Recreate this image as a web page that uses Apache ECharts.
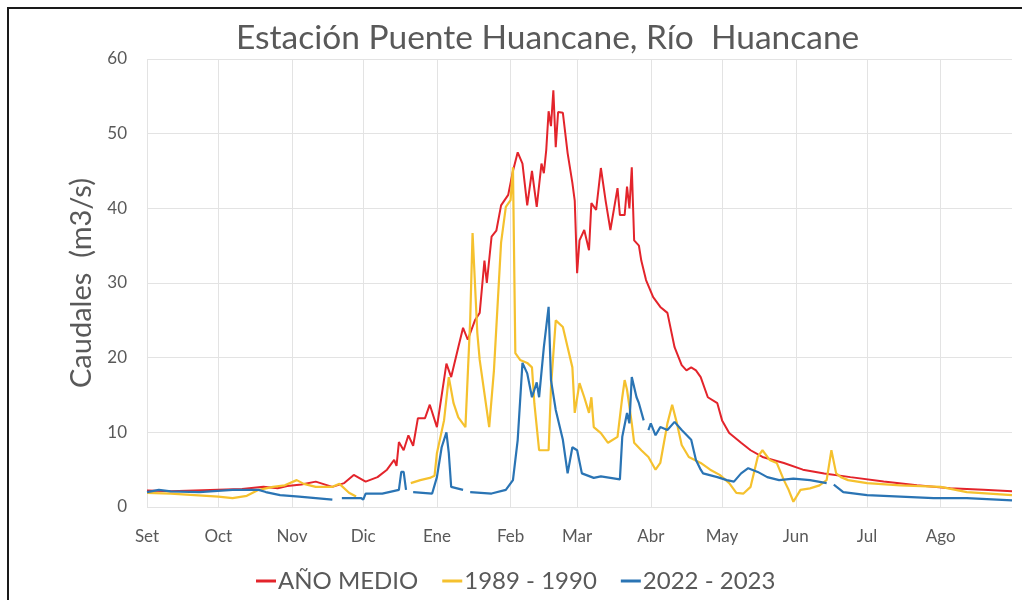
<!DOCTYPE html>
<html>
<head>
<meta charset="utf-8">
<script src="https://cdn.jsdelivr.net/npm/echarts@6/dist/echarts.min.js"></script>
<style>
html,body{margin:0;padding:0;background:#fff;}
#chart{width:1022px;height:600px;}
</style>
</head>
<body>
<div id="chart"></div>
<script>
// Month tick labels and the day index (from 1 Sep) where each month starts
const monthLabels = ['Set','Oct','Nov','Dic','Ene','Feb','Mar','Abr','May','Jun','Jul','Ago'];
const monthStart  = [0, 30, 61, 91, 122, 153, 181, 212, 242, 273, 303, 334];
const dayCount = 365;

// Series values as [dayIndex, caudal m3/s]; null = gap
const anoMedio = [[0,2.2],[10,2.1],[20,2.2],[30,2.3],[40,2.4],[49,2.7],[55,2.5],[59,2.8],[65,3.0],[71,3.4],[75,3.0],[78,2.7],[83,3.2],[87,4.3],[92,3.4],[97,4.0],[101,5.0],[104,6.3],[105,5.5],[106,8.7],[108,7.6],[110,9.6],[112,8.2],[114,11.9],[117,11.9],[119,13.7],[122,10.7],[126,19.2],[128,17.4],[131,21.4],[133,24],[135,22.4],[138,25],[140,26],[142,33],[143,30],[145,36.2],[147,37],[149,40.4],[152,41.8],[154,45],[156,47.5],[158,46],[160,40.4],[162,45],[164,40.2],[166,46],[167,44.7],[168,47.8],[169,53],[170,51],[171,55.8],[172,48.2],[173,52.9],[175,52.8],[177,47.4],[179,43.4],[180,41],[181,31.3],[182,35.7],[184,37.1],[186,34.4],[187,40.7],[189,39.8],[191,45.4],[193,41],[195,37.1],[198,42.7],[199,39.1],[201,39.1],[202,42.9],[203,40],[204,45.5],[205,35.7],[207,35],[208,33],[210,30.4],[213,28.1],[216,26.8],[219,26],[222,21.4],[225,19],[227,18.3],[229,18.7],[231,18.3],[233,17.4],[236,14.7],[240,13.9],[242,11.6],[245,9.9],[250,8.6],[254,7.6],[259,6.7],[268,5.9],[276,5.0],[285,4.5],[296,4.0],[310,3.4],[324,2.9],[338,2.5],[352,2.3],[364,2.1]];

const s1989 = [[0,1.9],[10,1.8],[20,1.6],[30,1.4],[36,1.2],[42,1.5],[47,2.3],[53,2.7],[58,2.9],[63,3.6],[66,3.1],[71,2.7],[78,2.7],[81,3.1],[85,1.9],[88,1.4],[89,null],[111,3.2],[115,3.6],[119,3.9],[121,4.2],[122,7.2],[125,11.6],[127,17.4],[129,13.9],[131,12],[134,10.7],[136,25],[137,36.7],[139,23.3],[140,19.7],[144,10.7],[146,18.3],[149,35.4],[151,40.2],[153,41.1],[154,45.5],[155,20.6],[157,19.7],[160,19.3],[162,18.7],[163,13.9],[165,7.6],[169,7.6],[170,16],[172,25],[175,24.1],[177,21.4],[179,18.7],[180,12.6],[182,16.6],[184,14.7],[186,12.6],[187,14.7],[188,10.7],[191,9.9],[194,8.6],[198,9.4],[200,14.7],[201,17],[202,15.7],[204,11.2],[205,8.6],[208,7.6],[211,6.7],[214,5.0],[216,5.9],[219,11.2],[221,13.7],[223,11.2],[225,8.3],[228,6.7],[233,5.9],[237,5.0],[241,4.3],[245,3.2],[248,1.9],[251,1.8],[254,2.7],[257,6.7],[259,7.6],[262,6.3],[265,5.9],[268,3.6],[270,2.3],[272,0.7],[275,2.3],[279,2.5],[283,2.9],[286,3.6],[288,7.6],[290,4.5],[292,4.0],[295,3.6],[303,3.2],[317,2.9],[334,2.7],[345,2.0],[364,1.6]];

const s2022 = [[0,2.0],[5,2.3],[10,2.1],[22,2.0],[36,2.3],[47,2.3],[50,2.0],[56,1.6],[64,1.4],[71,1.2],[78,1.0],[79,null],[82,1.2],[90,1.2],[91,1.0],[92,1.8],[99,1.8],[106,2.3],[107,4.7],[108,4.7],[109,2.3],[110,null],[112,2.0],[120,1.8],[122,4.0],[124,8.0],[126,10],[127,7.2],[128,2.7],[133,2.3],[134,null],[136,2.0],[145,1.8],[151,2.3],[154,3.6],[156,9.0],[158,19.3],[160,17.9],[162,14.7],[164,16.7],[165,14.7],[167,21.4],[169,26.8],[170,17],[172,13],[175,9.0],[177,4.5],[179,8.0],[181,7.6],[183,4.5],[188,3.9],[191,4.1],[195,3.9],[199,3.7],[200,9.4],[202,12.6],[203,11.2],[204,17.4],[206,14.7],[207,13.9],[209,11.6],[210,null],[211,10.3],[212,11.2],[214,9.6],[216,10.7],[219,10.3],[222,11.4],[225,10.3],[229,9.0],[231,6.3],[233,5.0],[234,4.5],[240,4.0],[244,3.6],[247,3.4],[250,4.5],[253,5.2],[257,4.7],[261,4.0],[266,3.6],[272,3.8],[279,3.6],[286,3.2],[287,null],[289,3.0],[293,2.0],[303,1.6],[317,1.4],[331,1.2],[345,1.2],[364,0.9]];

const categories = [];
for (let i = 0; i < dayCount; i++) categories.push(String(i));
const isMonthStart = (idx) => monthStart.indexOf(idx) !== -1;

const FONT = 'Lato';
const TXT = '#595959';
const chart = echarts.init(document.getElementById('chart'));
chart.setOption({
  backgroundColor: '#ffffff',
  animation: false,
  title: {
    text: 'Estación Puente Huancane, Río  Huancane',
    left: 231, top: 16,
    textStyle: {fontFamily: FONT, fontSize: 33.5, fontWeight: 'normal', color: TXT}
  },
  legend: {
    left: 251, top: 564,
    itemWidth: 20, itemHeight: 3, itemGap: 24,
    icon: 'rect',
    textStyle: {fontFamily: FONT, fontSize: 24, color: TXT, padding: [0,0,0,-3]},
    data: ['AÑO MEDIO', '1989 - 1990', '2022 - 2023']
  },
  grid: {left: 147, right: 10, top: 59, bottom: 93},
  xAxis: {
    type: 'category',
    data: categories,
    boundaryGap: false,
    axisLine: {show: false},
    axisTick: {show: false},
    axisLabel: {
      interval: (idx) => isMonthStart(idx),
      formatter: (v, idx) => monthLabels[monthStart.indexOf(Number(v))] || '',
      fontFamily: FONT, fontSize: 17, color: TXT, margin: 21
    },
    splitLine: {show: true, interval: (idx) => isMonthStart(idx), lineStyle: {color: '#e3e3e3', width: 1}}
  },
  yAxis: {
    type: 'value', min: 0, max: 60, interval: 10,
    name: 'Caudales  (m3/s)', nameLocation: 'middle', nameGap: 50, nameRotate: 90,
    nameTextStyle: {fontFamily: FONT, fontSize: 29, color: TXT},
    axisLine: {show: false}, axisTick: {show: false},
    axisLabel: {fontFamily: FONT, fontSize: 17, color: TXT, margin: 20},
    splitLine: {lineStyle: {color: '#e3e3e3', width: 1}}
  },
  graphic: [{
    type: 'rect', silent: true, z: 100,
    shape: {x: 8, y: 8, width: 1040, height: 620},
    style: {fill: 'none', stroke: '#1a1a1a', lineWidth: 2}
  }],
  series: [
    {name: 'AÑO MEDIO', type: 'line', data: anoMedio, showSymbol: false, connectNulls: false,
     itemStyle: {color: '#E3242B'}, lineStyle: {color: '#E3242B', width: 2}},
    {name: '1989 - 1990', type: 'line', data: s1989, showSymbol: false, connectNulls: false,
     itemStyle: {color: '#F5C12E'}, lineStyle: {color: '#F5C12E', width: 2.2}},
    {name: '2022 - 2023', type: 'line', data: s2022, showSymbol: false, connectNulls: false,
     itemStyle: {color: '#2A74B4'}, lineStyle: {color: '#2A74B4', width: 2.2}}
  ]
});
</script>
</body>
</html>
